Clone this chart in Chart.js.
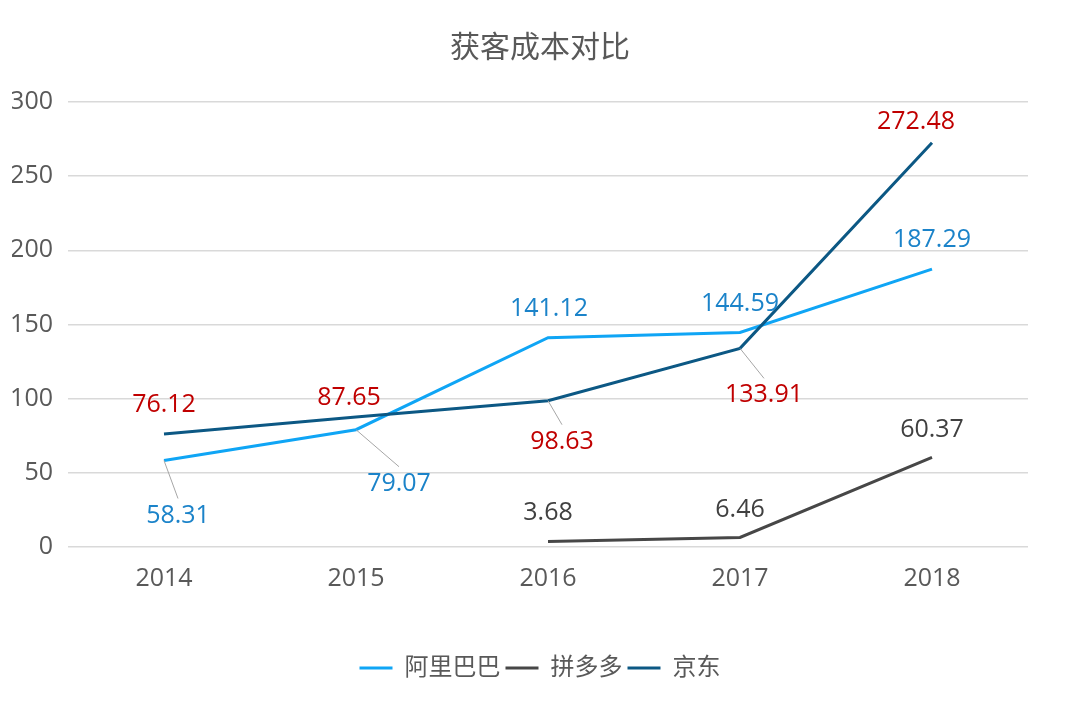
<!DOCTYPE html>
<html>
<head>
<meta charset="utf-8">
<script src="https://cdn.jsdelivr.net/npm/chart.js@4"></script>
<style>
  html, body { margin:0; padding:0; background:#fff; }
  #wrap { width:1080px; height:703px; position:relative; }
</style>
</head>
<body>
<div id="wrap"><canvas id="costChart"></canvas></div>
<script>
// data
const years = ['2014', '2015', '2016', '2017', '2018'];
const alibaba = [58.31, 79.07, 141.12, 144.59, 187.29];
const pinduoduo = [null, null, 3.68, 6.46, 60.37];
const jd = [76.12, 87.65, 98.63, 133.91, 272.48];
const yMin = 0, yMax = 300, yStep = 50;

// label placement relative to each point: [dx, dy, leader line]
const alibabaLabelPos = [[14, 55, true], [43, 54, true], [1, -29], [0, -29], [0, -29]];
const pddLabelPos = [null, null, [0, -29], [0, -28], [0, -28]];
const jdLabelPos = [[0, -29], [-7, -19], [14, 41, true], [24, 47, true], [-16, -21]];

const FONT = '"Open Sans", "Noto Sans CJK SC", sans-serif';

const valueLabels = {
  id: 'valueLabels',
  afterDatasetsDraw(chart) {
    const ctx = chart.ctx;
    ctx.save();
    ctx.font = '25px ' + FONT;
    ctx.textAlign = 'center';
    ctx.textBaseline = 'middle';
    chart.data.datasets.forEach((ds, di) => {
      const meta = chart.getDatasetMeta(di);
      meta.data.forEach((pt, i) => {
        const v = ds.data[i];
        if (v == null) return;
        const [dx, dy, leader] = ds.labelPos[i];
        const lx = pt.x + dx, ly = pt.y + dy;
        if (leader) {
          ctx.strokeStyle = '#a6a6a6';
          ctx.lineWidth = 1;
          ctx.beginPath();
          ctx.moveTo(pt.x, pt.y);
          ctx.lineTo(lx, ly - 17);
          ctx.stroke();
        }
        ctx.fillStyle = ds.labelColor;
        ctx.fillText(v.toFixed(2), lx, ly);
      });
    });
    ctx.restore();
  }
};

const line = (label, data, color, labelColor, labelPos, order) => ({
  label, data, labelColor, labelPos, order,
  borderColor: color, backgroundColor: color,
  borderWidth: 3, pointRadius: 0, pointHoverRadius: 0, tension: 0,
});

new Chart(document.getElementById('costChart'), {
  type: 'line',
  data: {
    labels: years,
    datasets: [
      line('阿里巴巴', alibaba, '#0FA5F5', '#1B83C9', alibabaLabelPos, 1),
      line('拼多多', pinduoduo, '#474747', '#404040', pddLabelPos, 1),
      line('京东', jd, '#0C5884', '#C00000', jdLabelPos, 0),
    ],
  },
  options: {
    responsive: true,
    maintainAspectRatio: false,
    animation: false,
    layout: { padding: { left: 12, right: 12, top: 0, bottom: 13 } },
    plugins: {
      title: {
        display: true, text: '获客成本对比', color: '#595959',
        font: { family: FONT, size: 30, weight: 'normal' },
        padding: { top: 30, bottom: 36 },
      },
      legend: {
        position: 'bottom',
        labels: {
          color: '#595959', font: { family: FONT, size: 24 },
          usePointStyle: true, pointStyle: 'line', pointStyleWidth: 33, padding: 5,
          sort: (a, b) => a.datasetIndex - b.datasetIndex,
        },
      },
      tooltip: { enabled: false },
    },
    scales: {
      x: {
        offset: true,
        grid: { display: false, drawTicks: false },
        border: { display: false },
        ticks: { color: '#595959', font: { family: FONT, size: 25 }, padding: 17 },
        afterFit: s => { s.height += 40; },
      },
      y: {
        min: yMin, max: yMax,
        grid: { color: '#d9d9d9', lineWidth: 1.5, drawTicks: false },
        border: { display: false },
        ticks: { stepSize: yStep, color: '#595959', font: { family: FONT, size: 25 }, padding: 15 },
        afterFit: s => { s.width = 56; },
      },
      // empty right-hand axis keeps the plot's right margin while title and legend stay centred
      yRight: {
        position: 'right',
        grid: { display: false, drawTicks: false },
        border: { display: false },
        ticks: { display: false },
        afterFit: s => { s.width = 40; },
      },
    },
  },
  plugins: [valueLabels],
});
</script>
</body>
</html>
